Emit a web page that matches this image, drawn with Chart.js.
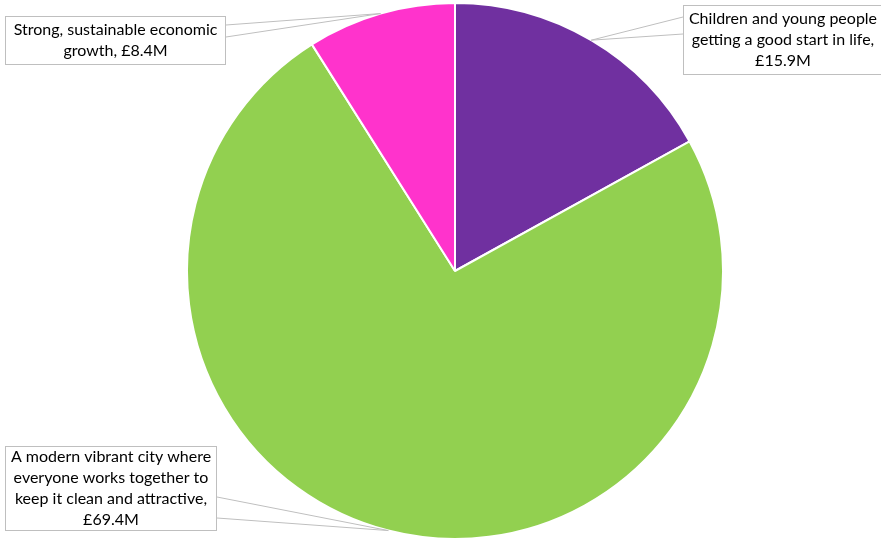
<!DOCTYPE html>
<html>
<head>
<meta charset="utf-8">
<style>
  html, body { margin: 0; padding: 0; background: #ffffff; }
  #wrap { width: 881px; height: 540px; position: relative; }
</style>
<script src="https://cdn.jsdelivr.net/npm/chart.js@4/dist/chart.umd.min.js"></script>
</head>
<body>
<div id="wrap"><canvas id="pie" width="881" height="540"></canvas></div>
<script>
// Capital spend split by priority (£ millions)
const categories = [
  'Children and young people\ngetting a good start in life',
  'A modern vibrant city where\neveryone works together to\nkeep it clean and attractive',
  'Strong, sustainable economic\ngrowth'
];
const values = [15.9, 69.4, 8.4];
const colors = ['#7030A0', '#92D050', '#FF33CC'];

// Callout boxes: placement of each label box and where its leader leaves the box
const calloutLayout = [
  { x: 683, y: 5, w: 200, h: 70, side: 'left', attach: [17, 34] },
  { x: 5, y: 446, w: 212, h: 85, side: 'right', attach: [497, 518] },
  { x: 5, y: 16, w: 221, h: 49, side: 'right', attach: [25, 37] }
];

const FONT = '16px Lato, "Open Sans", sans-serif';
const LINE_H = 21;

function labelLines(ctx, i, maxW) {
  const lines = categories[i].split('\n');
  const money = '£' + values[i].toFixed(1) + 'M';
  const last = lines[lines.length - 1] + ', ' + money;
  ctx.font = FONT;
  if (ctx.measureText(last).width <= maxW) {
    lines[lines.length - 1] = last;
  } else {
    lines[lines.length - 1] = lines[lines.length - 1] + ',';
    lines.push(money);
  }
  return lines;
}

const calloutPlugin = {
  id: 'callouts',
  afterDatasetsDraw(chart) {
    const ctx = chart.ctx;
    const meta = chart.getDatasetMeta(0);
    meta.data.forEach((arc, i) => {
      const box = calloutLayout[i];
      const mid = (arc.startAngle + arc.endAngle) / 2;
      const ax = arc.x + Math.cos(mid) * arc.outerRadius;
      const ay = arc.y + Math.sin(mid) * arc.outerRadius;
      const ex = box.side === 'left' ? box.x : box.x + box.w;

      ctx.save();
      ctx.strokeStyle = '#BFBFBF';
      ctx.lineWidth = 1;
      box.attach.forEach(yy => {
        ctx.beginPath();
        ctx.moveTo(ex, yy);
        ctx.lineTo(ax, ay);
        ctx.stroke();
      });

      ctx.fillStyle = '#FFFFFF';
      ctx.fillRect(box.x, box.y, box.w, box.h);
      ctx.strokeRect(box.x + 0.5, box.y + 0.5, box.w - 1, box.h - 1);

      const lines = labelLines(ctx, i, box.w - 6);
      ctx.fillStyle = '#000000';
      ctx.font = FONT;
      ctx.textAlign = 'center';
      ctx.textBaseline = 'middle';
      const cx = box.x + box.w / 2;
      const top = box.y + box.h / 2 - (lines.length - 1) * LINE_H / 2;
      lines.forEach((ln, k) => ctx.fillText(ln, cx, top + k * LINE_H));
      ctx.restore();
    });
  }
};

new Chart(document.getElementById('pie'), {
  type: 'pie',
  data: {
    labels: categories,
    datasets: [{
      data: values,
      backgroundColor: colors,
      borderColor: '#FFFFFF',
      borderWidth: 2
    }]
  },
  options: {
    responsive: false,
    animation: false,
    layout: { padding: { left: 29, right: 0, top: 2, bottom: 0 } },
    plugins: {
      legend: { display: false },
      title: { display: false },
      tooltip: { enabled: false }
    }
  },
  plugins: [calloutPlugin]
});
</script>
</body>
</html>
